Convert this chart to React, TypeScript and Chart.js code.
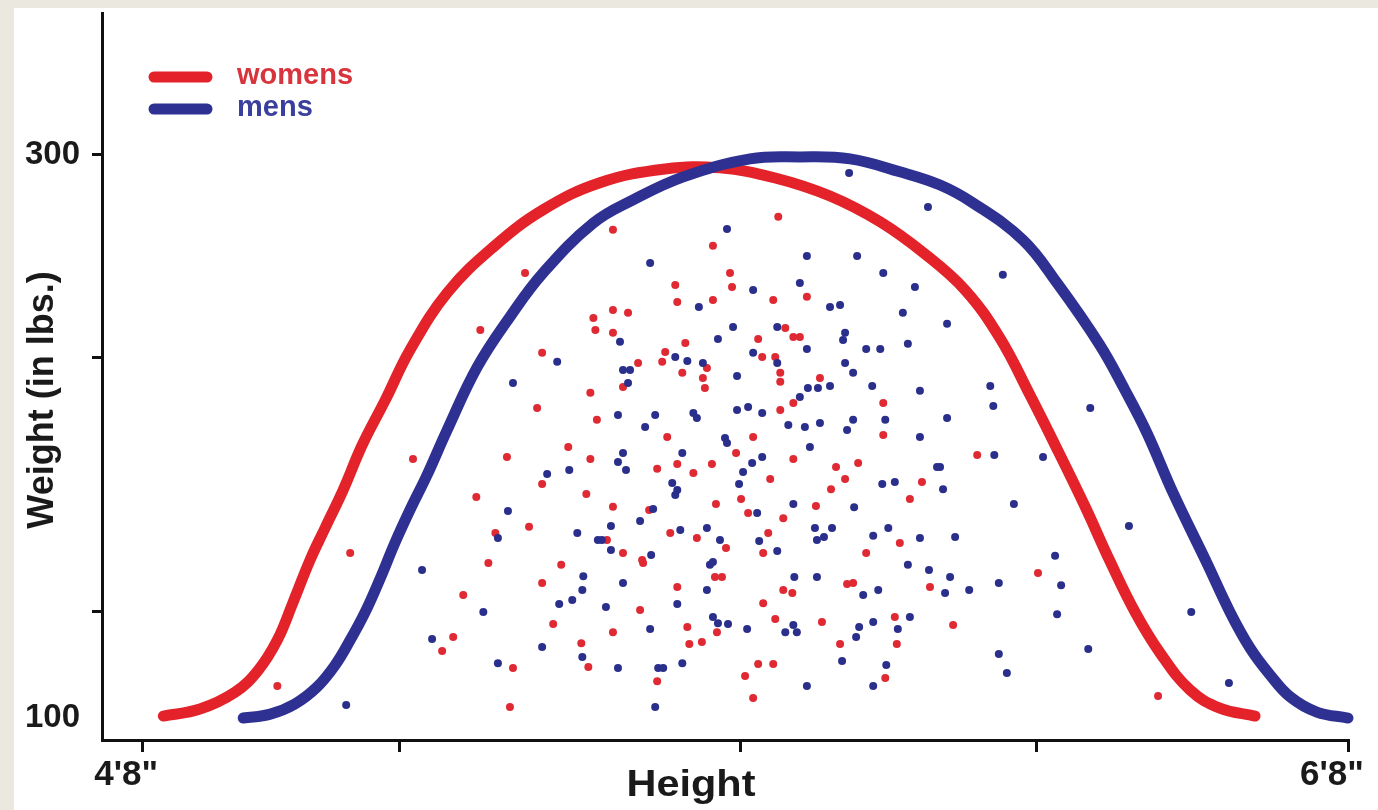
import React, { useEffect, useRef } from 'react';
import { Chart, registerables } from 'chart.js';

Chart.register(...registerables);

const FONT = '"Liberation Sans", Arial, Helvetica, sans-serif';

// Axis ticks (height in inches, weight in lbs)
const xTickValues = [56, 61.13, 67.9, 73.8, 80];
const xTickLabels = ["4'8\"", '', '', '', "6'8\""];
const yTickValues = [100, 137.7, 227.9, 300];
const yTickLabels = ['100', '', '', '300'];
const yTickHasMark = [false, true, true, true];

const xTitle = 'Height';
const yTitle = 'Weight (in lbs.)';
const seriesNames = ['womens', 'mens'];

const RED = '#e3222a';
const BLUE = '#2e3192';
const RED_DOT = '#e02a33';
const BLUE_DOT = '#2b2f8c';

// Fitted curves [height (in), weight (lbs)]
const womensCurve: [number, number][] = [
  [56.42, 100.7], [57.15, 103.2], [57.85, 109.2], [58.31, 117.0], [58.69, 127.7], [58.99, 140.5],
  [59.34, 156.1], [59.64, 167.5], [60.0, 181.0], [60.38, 197.0],
  [60.84, 213.0], [61.33, 230.7], [62.07, 251.0], [62.99, 267.3], [63.98, 280.5], [65.11, 290.1],
  [66.41, 295.0], [67.5, 295.4], [68.6, 291.8], [69.69, 285.4], [70.69, 276.2], [71.58, 264.8],
  [72.38, 252.0], [73.07, 235.0], [73.67, 214.7], [74.23, 194.8], [74.77, 175.0], [75.26, 155.8],
  [75.76, 137.7], [76.26, 123.1], [76.86, 109.9], [77.45, 103.5], [78.15, 100.7],
];

const mensCurve: [number, number][] = [
  [58.01, 100.0], [58.55, 101.4], [59.04, 105.0], [59.48, 111.0], [59.84, 118.8], [60.14, 127.7],
  [60.44, 137.7], [60.74, 149.7], [61.03, 162.2], [61.33, 173.9], [61.67, 186.3], [62.07, 202.3],
  [62.67, 224.7], [63.32, 242.5], [63.98, 258.1], [64.98, 275.8], [65.77, 284.0], [66.77, 292.2],
  [68.1, 298.6], [69.09, 299.3], [70.09, 298.6], [71.08, 294.0], [71.88, 289.3], [72.54, 282.9],
  [73.53, 269.8], [74.21, 254.5], [75.06, 232.5], [75.56, 216.5], [76.0, 201.2], [76.52, 179.9],
  [77.19, 155.1], [77.65, 137.7], [78.05, 124.9], [78.45, 115.3], [78.85, 107.5], [79.38, 102.1],
  [80.0, 100.0],
];

// Individual observations [height (in), weight (lbs)]
const womensPoints: [number, number][] = [
  [63.62, 258.1], [62.73, 237.8], [63.96, 229.7], [64.98, 242.1], [65.02, 237.8], [64.92, 215.5], [63.86, 210.1], [65.05, 205.9], [65.37, 273.4], [68.66, 278.0],
  [67.36, 267.7], [67.7, 258.1], [67.74, 253.1], [66.61, 253.8], [66.65, 247.8], [65.37, 244.9], [65.67, 243.9], [67.36, 248.5], [68.56, 248.5], [69.23, 249.6],
  [65.37, 236.8], [68.8, 238.5], [68.96, 235.3], [69.09, 235.3], [68.26, 234.6], [66.81, 233.2], [66.41, 230.0], [66.35, 226.5], [65.87, 226.1], [66.75, 222.6],
  [67.24, 224.3], [67.16, 220.8], [67.2, 217.2], [68.34, 228.2], [68.6, 228.2], [68.7, 222.6], [68.7, 219.4], [65.57, 217.6], [69.49, 220.8], [68.96, 211.9],
  [68.7, 209.4], [70.75, 211.9], [70.75, 200.5], [66.45, 199.8], [68.16, 199.8], [61.39, 192.0], [63.26, 192.7], [64.48, 196.3], [64.92, 192.0], [63.96, 183.1],
  [64.84, 179.6], [62.65, 178.5], [63.7, 167.9], [63.03, 165.7], [60.14, 158.6], [62.89, 155.1], [64.34, 154.4], [63.96, 148.0], [62.39, 143.7], [64.18, 133.4],
  [62.19, 128.8], [61.97, 123.8], [64.74, 126.6], [64.88, 118.1], [63.38, 117.8], [58.69, 111.4], [63.32, 103.9], [67.82, 194.1], [68.96, 192.0], [66.25, 188.5],
  [66.65, 190.2], [66.97, 187.0], [67.34, 190.2], [68.5, 184.9], [69.81, 189.2], [70.25, 190.6], [69.99, 184.9], [71.52, 183.8], [69.71, 181.3], [71.28, 177.8],
  [65.37, 175.0], [66.09, 173.9], [67.42, 176.0], [67.92, 177.8], [68.06, 172.8], [69.41, 175.3], [68.76, 171.0], [65.25, 163.2], [66.51, 165.7], [67.04, 163.9],
  [68.46, 165.7], [67.62, 160.4], [65.57, 158.6], [65.95, 156.1], [65.97, 155.1], [68.36, 158.6], [70.41, 158.6], [71.08, 162.2], [67.4, 150.1], [67.54, 150.1],
  [66.65, 146.5], [68.76, 145.5], [68.94, 144.4], [70.03, 147.6], [70.15, 148.0], [71.68, 146.5], [68.36, 140.8], [65.91, 138.4], [68.6, 135.2], [69.53, 134.1],
  [70.98, 135.9], [65.37, 130.5], [66.85, 132.3], [67.44, 130.5], [66.89, 126.3], [67.14, 127.0], [69.89, 126.3], [71.02, 126.3], [68.26, 119.2], [68.56, 119.2],
  [68.0, 114.9], [66.25, 113.1], [70.79, 114.2], [68.16, 107.1], [72.62, 193.4], [73.83, 151.5], [72.14, 133.0], [76.22, 107.8],
];

const mensPoints: [number, number][] = [
  [64.26, 226.5], [63.38, 219.0], [70.07, 293.6], [71.64, 281.5], [67.64, 273.7], [66.11, 261.6], [69.23, 264.1], [70.23, 264.1], [70.75, 258.1], [71.38, 253.1],
  [69.09, 254.5], [68.16, 252.0], [67.08, 246.0], [69.69, 246.0], [69.89, 246.7], [71.14, 243.9], [67.76, 238.9], [68.64, 238.9], [69.99, 236.8], [69.95, 234.3],
  [67.46, 234.6], [69.23, 231.1], [70.41, 231.1], [70.69, 231.1], [71.24, 232.9], [65.51, 233.6], [66.61, 228.2], [66.85, 226.8], [67.16, 226.1], [68.16, 229.7],
  [68.64, 226.1], [65.57, 223.6], [65.71, 223.6], [65.67, 219.0], [67.84, 221.5], [69.99, 226.1], [70.15, 222.6], [69.09, 214.0], [69.25, 217.2], [69.45, 217.2],
  [69.69, 217.9], [70.53, 217.9], [71.48, 216.2], [65.47, 207.6], [66.21, 207.6], [66.97, 208.3], [67.04, 206.6], [67.84, 209.4], [68.06, 210.5], [68.34, 208.3],
  [68.86, 204.1], [69.19, 203.4], [69.49, 204.8], [70.15, 205.9], [70.03, 202.3], [70.79, 205.9], [66.01, 203.4], [71.48, 199.8], [67.6, 199.5], [73.13, 257.4],
  [72.02, 240.0], [72.88, 217.9], [72.94, 210.8], [74.87, 210.1], [72.02, 206.6], [64.06, 186.7], [64.5, 188.1], [63.28, 173.5], [64.66, 165.7], [63.08, 163.9],
  [65.07, 163.2], [61.57, 152.6], [64.78, 150.4], [64.76, 145.5], [64.56, 141.9], [64.3, 140.5], [62.79, 137.7], [61.77, 128.1], [63.96, 125.2], [64.76, 121.7],
  [63.08, 119.5], [60.06, 104.6], [67.64, 197.7], [69.29, 196.3], [65.57, 194.1], [66.75, 194.1], [65.47, 190.9], [65.63, 188.1], [68.14, 190.6], [68.34, 192.7],
  [67.96, 187.4], [67.88, 183.1], [66.55, 183.5], [66.65, 181.0], [66.61, 179.2], [70.73, 183.1], [70.98, 183.8], [71.82, 189.2], [68.96, 176.0], [70.17, 174.9],
  [68.24, 172.8], [66.17, 174.2], [65.33, 168.2], [65.91, 170.0], [66.71, 166.8], [67.24, 167.5], [69.39, 167.5], [69.73, 167.5], [69.43, 163.2], [69.57, 164.3],
  [70.55, 164.7], [70.85, 167.5], [71.48, 163.9], [67.5, 163.2], [68.28, 162.9], [68.64, 159.3], [65.15, 163.2], [65.33, 159.7], [66.13, 157.9], [67.3, 154.4],
  [67.36, 155.4], [71.24, 154.4], [71.66, 152.6], [68.98, 150.1], [69.43, 150.1], [65.57, 148.0], [67.24, 145.5], [70.35, 143.7], [70.65, 145.5], [65.23, 139.4],
  [66.65, 140.5], [67.36, 135.9], [67.46, 133.7], [67.66, 133.4], [68.04, 131.6], [68.8, 130.5], [68.96, 133.0], [69.03, 130.5], [66.11, 131.6], [70.55, 134.1],
  [70.27, 132.3], [70.21, 128.8], [71.28, 135.9], [71.04, 131.6], [65.47, 117.8], [66.27, 117.8], [66.37, 117.8], [66.75, 119.5], [69.93, 120.3], [70.81, 118.8],
  [69.23, 111.4], [70.55, 111.4], [66.21, 103.9], [72.96, 193.4], [73.93, 192.7], [71.88, 189.2], [71.94, 181.3], [73.35, 176.0], [72.18, 164.3], [75.64, 168.2],
  [74.17, 157.6], [72.08, 150.1], [71.98, 144.4], [72.46, 145.5], [73.05, 148.0], [74.29, 147.2], [74.21, 136.9], [76.88, 137.7], [73.05, 122.7], [73.21, 116.0],
  [74.83, 124.5], [77.63, 112.4],
];

const toXY = (arr: [number, number][]) => arr.map(([x, y]) => ({ x, y }));

const decorPlugin = {
  id: 'decor',
  beforeDraw(chart: any) {
    const { ctx, width, height } = chart;
    ctx.save();
    ctx.fillStyle = '#ebe8df';
    ctx.fillRect(0, 0, width, height);
    ctx.fillStyle = '#ffffff';
    ctx.fillRect(14, 8, width - 14, height - 8);
    ctx.restore();
  },
  afterDraw(chart: any) {
    const { ctx } = chart;
    ctx.save();
    ctx.fillStyle = '#1a1a1a';
    ctx.textAlign = 'center';
    ctx.textBaseline = 'middle';
    ctx.save();
    ctx.translate(691, 786);
    ctx.scale(1.12, 1);
    ctx.font = `bold 37px ${FONT}`;
    ctx.fillText(xTitle, 0, 0);
    ctx.restore();
    ctx.save();
    ctx.translate(43, 400);
    ctx.rotate(-Math.PI / 2);
    ctx.font = `bold 36px ${FONT}`;
    ctx.fillText(yTitle, 0, 0);
    ctx.restore();

    // legend
    const colors = [RED, BLUE];
    const textColors = ['#d8343d', '#3a3e9d'];
    ctx.font = `bold 29px ${FONT}`;
    ctx.textAlign = 'left';
    ctx.textBaseline = 'alphabetic';
    seriesNames.forEach((name, i) => {
      const y = 77 + i * 32;
      ctx.strokeStyle = colors[i];
      ctx.lineWidth = 11;
      ctx.lineCap = 'round';
      ctx.beginPath();
      ctx.moveTo(154, y);
      ctx.lineTo(207, y);
      ctx.stroke();
      ctx.fillStyle = textColors[i];
      ctx.fillText(name, 237, y + 7);
    });
    ctx.restore();
  },
};

export default function App() {
  const canvasRef = useRef<HTMLCanvasElement | null>(null);

  useEffect(() => {
    document.body.style.margin = '0';
    const canvas = canvasRef.current;
    if (!canvas) return;
    const curveStyle = {
      showLine: true,
      borderWidth: 11,
      pointRadius: 0,
      tension: 0.4,
      borderCapStyle: 'round',
      borderJoinStyle: 'round',
      clip: false,
    };
    const chart = new Chart(canvas, {
      type: 'scatter',
      data: {
        datasets: [
          { ...curveStyle, label: 'mens', data: toXY(mensCurve), borderColor: BLUE, backgroundColor: BLUE, order: 0 } as any,
          { ...curveStyle, label: 'womens', data: toXY(womensCurve), borderColor: RED, backgroundColor: RED, order: 1 } as any,
          {
            label: 'mens data',
            data: toXY(mensPoints),
            backgroundColor: BLUE_DOT,
            borderWidth: 0,
            pointRadius: 4,
            order: 2,
          },
          {
            label: 'womens data',
            data: toXY(womensPoints),
            backgroundColor: RED_DOT,
            borderWidth: 0,
            pointRadius: 4,
            order: 3,
          },
        ],
      },
      options: {
        responsive: false,
        animation: false,
        devicePixelRatio: 1,
        layout: { padding: { top: 13, right: 30, left: 0, bottom: 0 } },
        plugins: { legend: { display: false }, tooltip: { enabled: false } },
        scales: {
          x: {
            type: 'linear',
            min: 55.2,
            max: 80,
            afterBuildTicks: (s: any) => {
              s.ticks = xTickValues.map((v) => ({ value: v }));
            },
            afterFit: (s: any) => {
              s.height = 70;
              s.paddingLeft = 0;
              s.paddingRight = 0;
            },
            grid: {
              drawOnChartArea: false,
              drawTicks: true,
              tickLength: 12,
              tickWidth: 3,
              tickColor: '#111',
              color: '#111',
              lineWidth: 3,
            },
            border: { display: true, color: '#111', width: 3 },
            ticks: {
              callback: (_v: any, i: number) => xTickLabels[i],
              font: { family: FONT, size: 35, weight: 'bold' },
              color: '#1a1a1a',
              padding: 2,
              labelOffset: -16,
              maxRotation: 0,
              autoSkip: false,
            },
          },
          y: {
            type: 'linear',
            min: 92.2,
            max: 350.4,
            afterBuildTicks: (s: any) => {
              s.ticks = yTickValues.map((v) => ({ value: v }));
            },
            afterFit: (s: any) => {
              s.width = 102;
              s.paddingTop = 0;
              s.paddingBottom = 0;
            },
            grid: {
              drawOnChartArea: false,
              drawTicks: true,
              tickLength: 10,
              tickWidth: 3,
              tickColor: (c: any) => (yTickHasMark[c.index] ? '#111' : 'rgba(0,0,0,0)'),
              color: '#111',
              lineWidth: 3,
            },
            border: { display: true, color: '#111', width: 3 },
            ticks: {
              callback: (_v: any, i: number) => yTickLabels[i],
              font: { family: FONT, size: 33, weight: 'bold' },
              color: '#1a1a1a',
              padding: 12,
              autoSkip: false,
            },
          },
        },
      },
      plugins: [decorPlugin],
    });
    return () => chart.destroy();
  }, []);

  return (
    <div style={{ width: 1378, height: 810 }}>
      <canvas ref={canvasRef} width={1378} height={810} style={{ display: 'block' }} />
    </div>
  );
}
